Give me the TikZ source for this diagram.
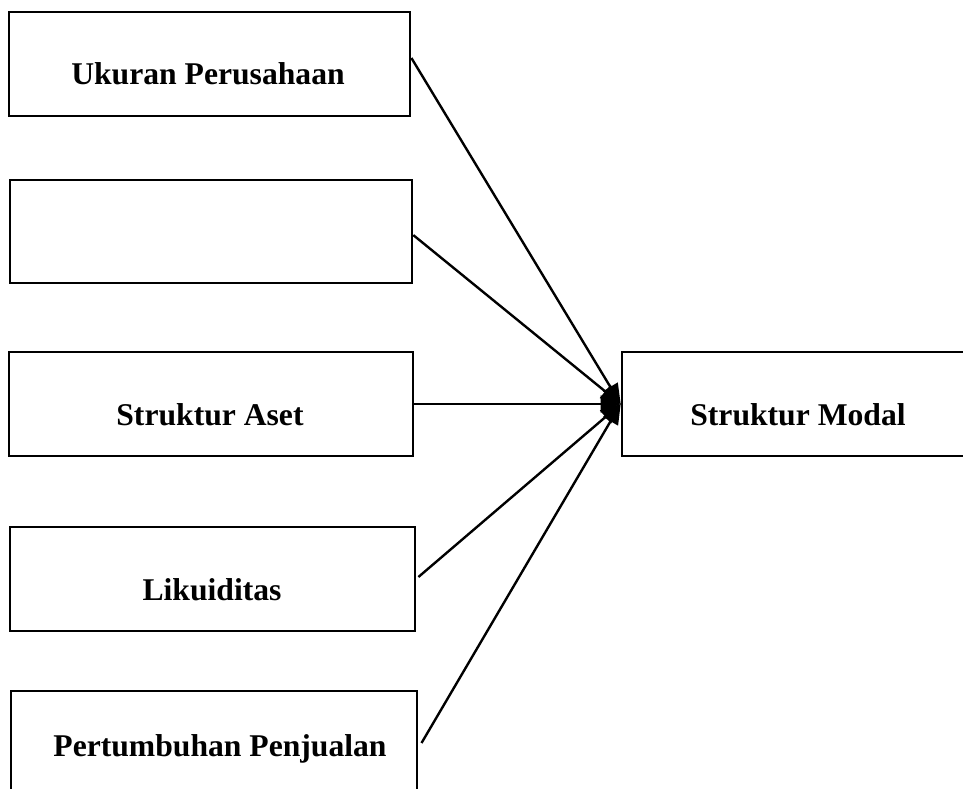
\documentclass[tikz,border=0pt]{standalone}
\usepackage{fontspec}
\setmainfont{Liberation Serif}
\usetikzlibrary{arrows.meta}

\tikzset{
  varbox/.style={draw, line width=1.8pt, minimum height=2.6cm, inner sep=0pt},
  varlabel/.style={anchor=base, inner sep=0pt, font=\fontsize{22.5}{27}\selectfont\bfseries},
  pengaruh/.style={->, line width=1.7pt},
}

\begin{document}
\begin{tikzpicture}[x=0.025cm, y=-0.025cm, >={Triangle[length=0.5cm, width=0.42cm]}]
\useasboundingbox (0,0) rectangle (963,789);

\node[varbox, minimum width=10.03cm] (uk) at (209.5, 64) {};
\node[varbox, minimum width=10.05cm, minimum height=2.58cm] (kosong) at (211, 231.5) {};
\node[varbox, minimum width=10.1cm] (sa) at (211, 404) {};
\node[varbox, minimum width=10.13cm] (lik) at (212.5, 579) {};
\node[varbox, minimum width=10.15cm] (pp) at (214, 743) {};
\node[varbox, minimum width=8.95cm] (sm) at (801, 404) {};

\node[varlabel] (ukt) at (208, 85) {Ukuran Perusahaan};
\node[varlabel] (sat) at (210, 425) {Struktur Aset};
\node[varlabel] (likt) at (212, 600) {Likuiditas};
\node[varlabel] (ppt) at (220, 756) {Pertumbuhan Penjualan};
\node[varlabel] (smt) at (798, 425) {Struktur Modal};

\draw[pengaruh] ([yshift=0.15cm]uk.east) -- (sm.west);
\draw[pengaruh] ([yshift=-0.09cm]kosong.east) -- (sm.west);
\draw[pengaruh] (sa.east) -- (sm.west);
\draw[pengaruh] ([xshift=0.05cm, yshift=0.05cm]lik.east) -- (sm.west);
\draw[pengaruh] ([xshift=0.08cm]pp.east) -- (sm.west);
\end{tikzpicture}
\end{document}
